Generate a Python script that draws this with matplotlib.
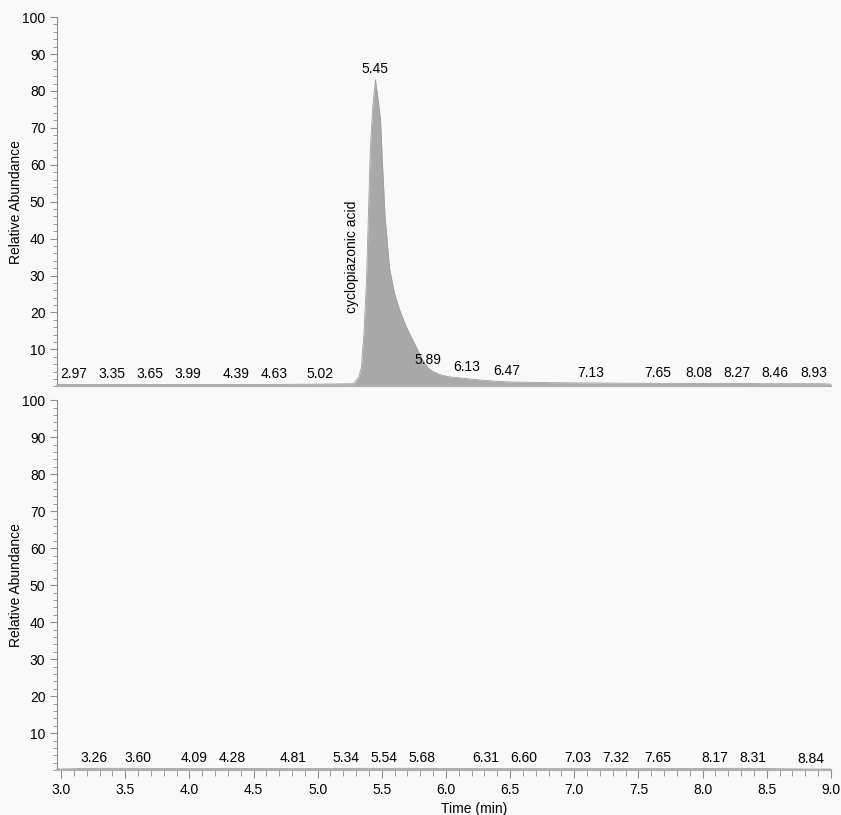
import matplotlib
matplotlib.use("Agg")
import matplotlib.pyplot as plt
from matplotlib.ticker import MultipleLocator

plt.rcParams['font.family'] = ['Liberation Sans', 'DejaVu Sans']

# top trace
top_time = [2.97, 3.35, 3.65, 3.99, 4.39, 4.63, 5.02, 5.28, 5.32, 5.34, 5.36, 5.38,
            5.40, 5.41, 5.43, 5.45, 5.47, 5.49, 5.50, 5.525, 5.56, 5.60, 5.64, 5.68,
            5.72, 5.77, 5.82, 5.86, 5.89, 5.95, 6.02, 6.13, 6.30, 6.47, 6.80, 7.13, 7.65,
            8.08, 8.27, 8.46, 8.93, 9.0]
top_abund = [0.5, 0.5, 0.5, 0.5, 0.5, 0.5, 0.6, 0.7, 2.5, 5, 14, 28,
             52, 64, 76, 83, 78, 72, 64, 46, 32, 25, 20.6, 17,
             14, 10.5, 7, 5, 4.2, 3.2, 2.6, 2.2, 1.6, 1.2, 1.0, 0.9, 0.8,
             0.8, 0.8, 0.7, 0.7, 0.6]
top_peaks = [2.97, 3.35, 3.65, 3.99, 4.39, 4.63, 5.02, 5.45, 5.89, 6.13, 6.47,
             7.13, 7.65, 8.08, 8.27, 8.46, 8.93]
top_peak_h = [0.5, 0.5, 0.5, 0.5, 0.5, 0.5, 0.6, 83, 4.2, 2.5, 1.3,
              0.9, 0.8, 0.8, 0.8, 0.7, 0.7]

# bottom trace
bot_time = [2.97, 3.26, 3.60, 4.09, 4.28, 4.81, 5.34, 5.54, 5.68, 6.31, 6.60,
            7.03, 7.32, 7.65, 8.17, 8.31, 8.84, 9.0]
bot_abund = [0.3, 0.5, 0.5, 0.4, 0.5, 0.4, 0.5, 0.5, 0.5, 0.4, 0.4,
             0.4, 0.4, 0.4, 0.5, 0.5, 0.3, 0.3]
bot_peaks = bot_time[1:-1]
bot_peak_h = bot_abund[1:-1]

compound = "cyclopiazonic acid"
compound_rt = 5.27

bg = '#f9f9f9'
grey = '#8c8c8c'
fs = 10


def spread(ax, times, sep=38, half=17):
    # push peak labels apart (pixel space) so they don't overlap, like the instrument software
    tr = ax.transData
    px = [tr.transform((t, 0))[0] for t in times]
    lo = tr.transform((ax.get_xlim()[0], 0))[0] + half
    hi = tr.transform((ax.get_xlim()[1], 0))[0] - half
    for _ in range(300):
        px[0] = max(px[0], lo)
        px[-1] = min(px[-1], hi)
        for i in range(len(px) - 1):
            gap = px[i + 1] - px[i]
            if gap < sep:
                d = (sep - gap) / 2
                px[i] -= d
                px[i + 1] += d
    inv = tr.inverted()
    return [inv.transform((p, 0))[0] for p in px]


fig = plt.figure(figsize=(8.41, 8.15), dpi=100, facecolor=bg)
ax1 = fig.add_axes([0.068, 0.526, 0.920, 0.453])
ax2 = fig.add_axes([0.068, 0.055, 0.920, 0.454])

for ax in (ax1, ax2):
    ax.set_facecolor(bg)
    ax.set_xlim(2.97, 9.0)
    ax.set_ylim(0, 100)
    for s in ('top', 'right'):
        ax.spines[s].set_visible(False)
    ax.spines['left'].set_color(grey)
    ax.spines['bottom'].set_color('#b0b0b0')
    ax.spines['bottom'].set_linewidth(1.5)
    ax.set_yticks(range(10, 101, 10))
    ax.yaxis.set_minor_locator(MultipleLocator(2))
    ax.tick_params(axis='y', which='major', length=5, color=grey, labelsize=fs)
    ax.tick_params(axis='y', which='minor', length=3, color=grey)
    ax.set_ylabel("Relative Abundance", fontsize=fs)
    ax.yaxis.set_label_coords(-0.044, 0.5)

ax1.tick_params(axis='x', which='both', bottom=False, labelbottom=False)
ax2.set_xticks([3.0, 3.5, 4.0, 4.5, 5.0, 5.5, 6.0, 6.5, 7.0, 7.5, 8.0, 8.5, 9.0])
ax2.xaxis.set_minor_locator(MultipleLocator(0.1))
ax2.tick_params(axis='x', which='major', length=6, color=grey, labelsize=fs)
ax2.tick_params(axis='x', which='minor', length=4, color=grey)
ax2.set_xlabel("Time (min)", fontsize=fs, x=0.539, labelpad=3)

ax1.fill_between(top_time, 0, top_abund, color='#a9a9a9', lw=0)
ax1.plot(top_time, top_abund, color='#a0a0a0', lw=0.6)
ax2.fill_between(bot_time, 0, bot_abund, color='#a9a9a9', lw=0)
ax2.plot(bot_time, bot_abund, color='#a0a0a0', lw=0.6)

for ax, peaks, heights in ((ax1, top_peaks, top_peak_h), (ax2, bot_peaks, bot_peak_h)):
    xs = spread(ax, peaks)
    for t, x, h in zip(peaks, xs, heights):
        ax.annotate(f"{t:.2f}", (x, h), xytext=(0, 2.5), textcoords='offset points',
                    ha='center', va='bottom', fontsize=fs)

ax1.text(compound_rt, 35, compound, rotation=90, ha='center', va='center', fontsize=fs)

fig.savefig("out.png", dpi=100, facecolor=bg)
